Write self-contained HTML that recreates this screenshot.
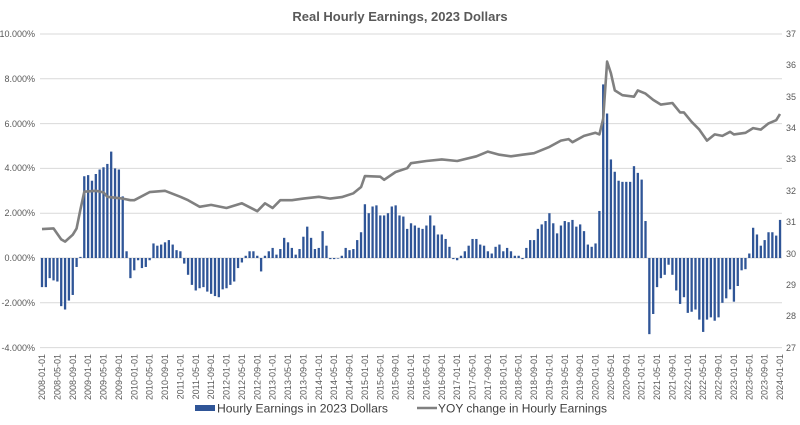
<!DOCTYPE html>
<html><head><meta charset="utf-8"><style>
html,body{margin:0;padding:0;background:#fff}
svg{display:block;font-family:"Liberation Sans",sans-serif}
</style></head><body>
<svg id="c" width="800" height="425" viewBox="0 0 800 425" xmlns="http://www.w3.org/2000/svg">
<text x="400" y="21" text-anchor="middle" font-size="13" font-weight="bold" fill="#595959">Real Hourly Earnings, 2023 Dollars</text>
<g stroke="#d9d9d9" stroke-width="1">
<line x1="40" x2="782" y1="34" y2="34"/><line x1="40" x2="782" y1="78.8" y2="78.8"/><line x1="40" x2="782" y1="123.6" y2="123.6"/><line x1="40" x2="782" y1="168.4" y2="168.4"/><line x1="40" x2="782" y1="213.2" y2="213.2"/><line x1="40" x2="782" y1="258" y2="258"/><line x1="40" x2="782" y1="302.8" y2="302.8"/><line x1="40" x2="782" y1="347.6" y2="347.6"/>
</g>
<g font-size="9" fill="#595959" text-anchor="end">
<text x="35" y="37">10.000%</text><text x="35" y="82">8.000%</text><text x="35" y="127">6.000%</text><text x="35" y="171">4.000%</text><text x="35" y="216">2.000%</text><text x="35" y="261">0.000%</text><text x="35" y="306">-2.000%</text><text x="35" y="351">-4.000%</text>
</g>
<g font-size="9" fill="#595959">
<text x="786" y="37">37</text><text x="786" y="68">36</text><text x="786" y="100">35</text><text x="786" y="131">34</text><text x="786" y="162">33</text><text x="786" y="194">32</text><text x="786" y="225">31</text><text x="786" y="257">30</text><text x="786" y="288">29</text><text x="786" y="319">28</text><text x="786" y="351">27</text>
</g>
<g id="bars" fill="#2f5597"></g>
<polyline id="ln" fill="none" stroke="#808080" stroke-width="2.6" stroke-linejoin="round"/>
<g font-size="9" fill="#595959" text-anchor="end" id="xl">
<text transform="translate(45,354) rotate(-90)">2008-01-01</text>
<text transform="translate(60.4,354) rotate(-90)">2008-05-01</text>
<text transform="translate(75.8,354) rotate(-90)">2008-09-01</text>
<text transform="translate(91.1,354) rotate(-90)">2009-01-01</text>
<text transform="translate(106.5,354) rotate(-90)">2009-05-01</text>
<text transform="translate(121.9,354) rotate(-90)">2009-09-01</text>
<text transform="translate(137.3,354) rotate(-90)">2010-01-01</text>
<text transform="translate(152.6,354) rotate(-90)">2010-05-01</text>
<text transform="translate(168,354) rotate(-90)">2010-09-01</text>
<text transform="translate(183.4,354) rotate(-90)">2011-01-01</text>
<text transform="translate(198.8,354) rotate(-90)">2011-05-01</text>
<text transform="translate(214.1,354) rotate(-90)">2011-09-01</text>
<text transform="translate(229.5,354) rotate(-90)">2012-01-01</text>
<text transform="translate(244.9,354) rotate(-90)">2012-05-01</text>
<text transform="translate(260.3,354) rotate(-90)">2012-09-01</text>
<text transform="translate(275.6,354) rotate(-90)">2013-01-01</text>
<text transform="translate(291,354) rotate(-90)">2013-05-01</text>
<text transform="translate(306.4,354) rotate(-90)">2013-09-01</text>
<text transform="translate(321.8,354) rotate(-90)">2014-01-01</text>
<text transform="translate(337.1,354) rotate(-90)">2014-05-01</text>
<text transform="translate(352.5,354) rotate(-90)">2014-09-01</text>
<text transform="translate(367.9,354) rotate(-90)">2015-01-01</text>
<text transform="translate(383.3,354) rotate(-90)">2015-05-01</text>
<text transform="translate(398.6,354) rotate(-90)">2015-09-01</text>
<text transform="translate(414,354) rotate(-90)">2016-01-01</text>
<text transform="translate(429.4,354) rotate(-90)">2016-05-01</text>
<text transform="translate(444.8,354) rotate(-90)">2016-09-01</text>
<text transform="translate(460.1,354) rotate(-90)">2017-01-01</text>
<text transform="translate(475.5,354) rotate(-90)">2017-05-01</text>
<text transform="translate(490.9,354) rotate(-90)">2017-09-01</text>
<text transform="translate(506.3,354) rotate(-90)">2018-01-01</text>
<text transform="translate(521.6,354) rotate(-90)">2018-05-01</text>
<text transform="translate(537,354) rotate(-90)">2018-09-01</text>
<text transform="translate(552.4,354) rotate(-90)">2019-01-01</text>
<text transform="translate(567.8,354) rotate(-90)">2019-05-01</text>
<text transform="translate(583.1,354) rotate(-90)">2019-09-01</text>
<text transform="translate(598.5,354) rotate(-90)">2020-01-01</text>
<text transform="translate(613.9,354) rotate(-90)">2020-05-01</text>
<text transform="translate(629.3,354) rotate(-90)">2020-09-01</text>
<text transform="translate(644.6,354) rotate(-90)">2021-01-01</text>
<text transform="translate(660,354) rotate(-90)">2021-05-01</text>
<text transform="translate(675.4,354) rotate(-90)">2021-09-01</text>
<text transform="translate(690.8,354) rotate(-90)">2022-01-01</text>
<text transform="translate(706.1,354) rotate(-90)">2022-05-01</text>
<text transform="translate(721.5,354) rotate(-90)">2022-09-01</text>
<text transform="translate(736.9,354) rotate(-90)">2023-01-01</text>
<text transform="translate(752.3,354) rotate(-90)">2023-05-01</text>
<text transform="translate(767.6,354) rotate(-90)">2023-09-01</text>
<text transform="translate(783,354) rotate(-90)">2024-01-01</text>
</g>
<rect x="195" y="405" width="20" height="6" fill="#2f5597"/>
<text x="217" y="412.5" font-size="12.3" fill="#404040" textLength="171" lengthAdjust="spacingAndGlyphs">Hourly Earnings in 2023 Dollars</text>
<line x1="417" x2="437" y1="408" y2="408" stroke="#808080" stroke-width="2.6"/>
<text x="438" y="412.5" font-size="12.3" fill="#404040" textLength="169" lengthAdjust="spacingAndGlyphs">YOY change in Hourly Earnings</text>
</svg>
<script>
var b=[-1.3,-1.3,-0.9,-1.0,-1.05,-2.15,-2.3,-1.9,-1.65,-0.4,0.05,
3.65,3.7,3.45,3.75,3.95,4.05,4.2,4.75,4.0,3.95,2.75,0.3,
-0.9,-0.55,-0.1,-0.45,-0.4,-0.1,0.65,0.55,0.6,0.7,0.8,0.6,0.35,0.3,-0.25,-0.75,
-1.2,-1.45,-1.35,-1.3,-1.5,-1.6,-1.7,-1.75,-1.4,-1.35,-1.2,-1.05,-0.45,-0.2,0.1,0.3,0.3,0.1,-0.6,0.1,0.3,0.45,0.15,0.4,0.9,0.7,0.45,0.15,0.4,0.95,1.4,0.9,0.4,0.45,1.2,0.55,-0.05,-0.05,0.0,0.1,0.45,0.35,0.4,0.8,1.15,2.4,2.0,2.3,2.35,1.9,1.9,2.0,2.3,2.35,1.9,
1.85,1.3,1.55,1.45,1.35,1.3,1.45,1.9,1.45,1.05,1.05,0.85,0.5,-0.05,-0.1,0.1,0.3,0.55,0.85,0.85,0.6,0.55,0.3,0.2,0.5,0.6,0.3,0.45,0.3,0.1,0.1,-0.05,0.45,0.8,0.8,1.3,1.5,1.65,2.0,1.55,1.1,1.45,1.65,1.6,1.7,1.4,1.5,1.2,0.6,0.5,0.65,2.1,
7.75,6.45,4.4,3.85,3.45,3.4,3.4,3.4,4.1,3.8,3.5,1.65,-3.4,-2.5,-1.3,-0.9,-0.75,-0.3,-0.75,-1.45,-2.05,-1.75,-2.45,-2.4,-2.3,-2.75,-3.3,-2.75,-2.65,-2.8,-2.65,-2.0,-1.8,-1.4,-1.95,-1.25,-0.55,-0.5,0.2,1.35,1.05,0.55,0.8,1.15,1.15,1.0,1.7];
var k=[[0,30.78],[3,30.8],[5,30.45],[6,30.38],[8,30.6],[9,30.8],[10,31.4],[11,31.97],[14,32.0],[16,31.95],[17,31.81],[21,31.75],[23,31.7],[24,31.7],[28,31.96],[32,32.0],[36,31.81],[38,31.7],[41,31.49],[44,31.55],[48,31.45],[52,31.6],[56,31.35],[58,31.6],[60,31.45],[62,31.7],[65,31.7],[68,31.75],[72,31.81],[75,31.75],[78,31.8],[81,31.92],[83,32.12],[84,32.47],[88,32.45],[89,32.35],[92,32.6],[95,32.72],[96,32.88],[100,32.95],[104,33.0],[108,32.95],[113,33.1],[116,33.25],[119,33.15],[122,33.1],[125,33.15],[128,33.2],[132,33.4],[135,33.6],[137,33.65],[138,33.55],[141,33.75],[144,33.85],[145,33.8],[146,34.3],[147,36.12],[148,35.75],[149,35.2],[151,35.05],[154,35.0],[155,35.2],[157,35.1],[159,34.9],[161,34.75],[164,34.8],[166,34.5],[167,34.5],[169,34.2],[171,33.95],[173,33.6],[175,33.8],[177,33.75],[179,33.88],[180,33.8],[183,33.85],[185,34.0],[187,33.95],[189,34.15],[191,34.25],[192,34.45]];
var ns="http://www.w3.org/2000/svg",g=document.getElementById('bars');
function X(i){return 42+3.844*i;}
for(var i=0;i<b.length&&i<193;i++){var v=b[i],y0=258,y1=258-v*22.4;var r=document.createElementNS(ns,'rect');
r.setAttribute('x',(X(i)-1.15).toFixed(2));r.setAttribute('width','2.3');r.setAttribute('y',Math.min(y0,y1).toFixed(2));r.setAttribute('height',Math.max(0.6,Math.abs(y1-y0)).toFixed(2));g.appendChild(r);}
var pts=[];for(var j=0;j<k.length;j++){pts.push(X(k[j][0]).toFixed(1)+','+(34+(37-k[j][1])*31.36).toFixed(1));}
document.getElementById('ln').setAttribute('points',pts.join(' '));
</script>
</body></html>
